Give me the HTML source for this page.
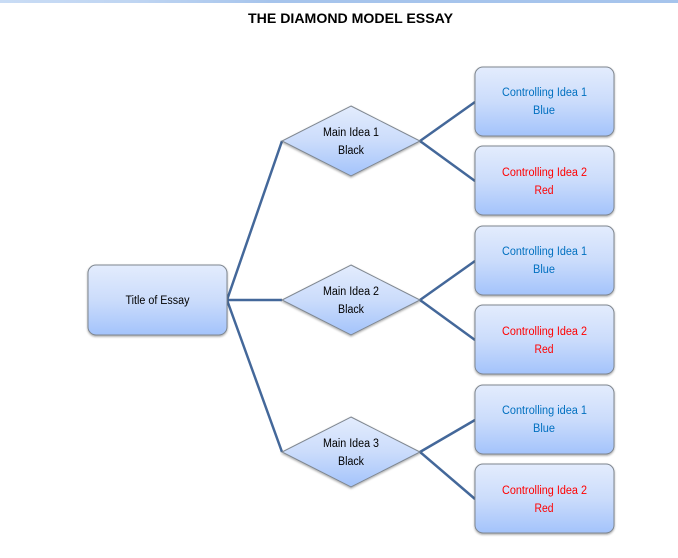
<!DOCTYPE html>
<html>
<head>
<meta charset="utf-8">
<style>
html,body{margin:0;padding:0;background:#fff;width:678px;height:558px;overflow:hidden}
svg{display:block}
text{font-family:"Liberation Sans",sans-serif;font-size:11.5px;text-anchor:middle}
.s{stroke:#7f8790;stroke-width:1;fill:url(#g);filter:url(#sh)}
.l{stroke:#44689a;stroke-width:2.5;fill:none;stroke-linejoin:miter}
.b{fill:#0070c0}.r{fill:#ff0000}.k{fill:#000}
</style>
</head>
<body>
<svg width="678" height="558" viewBox="0 0 678 558" xmlns="http://www.w3.org/2000/svg">
<defs>
<linearGradient id="g" x1="0" y1="0" x2="0" y2="1">
<stop offset="0" stop-color="#e3ecfd"/><stop offset="0.5" stop-color="#cbdcfb"/><stop offset="1" stop-color="#a3c3fb"/>
</linearGradient>
<linearGradient id="top" x1="0" y1="0" x2="1" y2="0">
<stop offset="0" stop-color="#c9dcf5"/><stop offset="0.2" stop-color="#bfd5f2"/><stop offset="0.4" stop-color="#a6c4ec"/><stop offset="1" stop-color="#a6c4ec"/>
</linearGradient>
<filter id="sh" x="-5%" y="-5%" width="110%" height="115%">
<feDropShadow dx="0" dy="1.2" stdDeviation="1" flood-color="#000" flood-opacity="0.35"/>
</filter>
</defs>
<rect x="0" y="0" width="678" height="3" fill="url(#top)"/>
<text x="350.5" y="23" textLength="205" lengthAdjust="spacingAndGlyphs" style="font-size:13.5px;font-weight:bold;fill:#000">THE DIAMOND MODEL ESSAY</text>

<path class="l" d="M282 141L227 300L282 452M227 300H282"/>
<path class="l" d="M475 102L420 141L475 181"/>
<path class="l" d="M475 261L420 300L475 340"/>
<path class="l" d="M475 420L420 452L475 499"/>

<rect class="s" x="88" y="265" width="139" height="70" rx="8"/>
<polygon class="s" points="351,106 420,141 351,176 282,141"/>
<polygon class="s" points="351,265 420,300 351,335 282,300"/>
<polygon class="s" points="351,417 420,452 351,487 282,452"/>
<rect class="s" x="475" y="67" width="139" height="69" rx="8"/>
<rect class="s" x="475" y="146" width="139" height="69" rx="8"/>
<rect class="s" x="475" y="226" width="139" height="69" rx="8"/>
<rect class="s" x="475" y="305" width="139" height="69" rx="8"/>
<rect class="s" x="475" y="385" width="139" height="69" rx="8"/>
<rect class="s" x="475" y="464" width="139" height="69" rx="8"/>

<text class="k" x="157.5" y="304" textLength="64" lengthAdjust="spacingAndGlyphs">Title of Essay</text>

<text class="k" x="351" y="136" textLength="56" lengthAdjust="spacingAndGlyphs">Main Idea 1</text>
<text class="k" x="351" y="154" textLength="26" lengthAdjust="spacingAndGlyphs">Black</text>
<text class="k" x="351" y="295" textLength="56" lengthAdjust="spacingAndGlyphs">Main Idea 2</text>
<text class="k" x="351" y="313" textLength="26" lengthAdjust="spacingAndGlyphs">Black</text>
<text class="k" x="351" y="447" textLength="56" lengthAdjust="spacingAndGlyphs">Main Idea 3</text>
<text class="k" x="351" y="465" textLength="26" lengthAdjust="spacingAndGlyphs">Black</text>

<text class="b" x="544.5" y="96" textLength="85" lengthAdjust="spacingAndGlyphs">Controlling Idea 1</text>
<text class="b" x="544" y="114" textLength="22" lengthAdjust="spacingAndGlyphs">Blue</text>
<text class="r" x="544.5" y="176" textLength="85" lengthAdjust="spacingAndGlyphs">Controlling Idea 2</text>
<text class="r" x="544" y="194" textLength="19" lengthAdjust="spacingAndGlyphs">Red</text>
<text class="b" x="544.5" y="255" textLength="85" lengthAdjust="spacingAndGlyphs">Controlling Idea 1</text>
<text class="b" x="544" y="273" textLength="22" lengthAdjust="spacingAndGlyphs">Blue</text>
<text class="r" x="544.5" y="335" textLength="85" lengthAdjust="spacingAndGlyphs">Controlling Idea 2</text>
<text class="r" x="544" y="353" textLength="19" lengthAdjust="spacingAndGlyphs">Red</text>
<text class="b" x="544.5" y="414" textLength="85" lengthAdjust="spacingAndGlyphs">Controlling idea 1</text>
<text class="b" x="544" y="432" textLength="22" lengthAdjust="spacingAndGlyphs">Blue</text>
<text class="r" x="544.5" y="494" textLength="85" lengthAdjust="spacingAndGlyphs">Controlling Idea 2</text>
<text class="r" x="544" y="512" textLength="19" lengthAdjust="spacingAndGlyphs">Red</text>
</svg>
</body>
</html>
